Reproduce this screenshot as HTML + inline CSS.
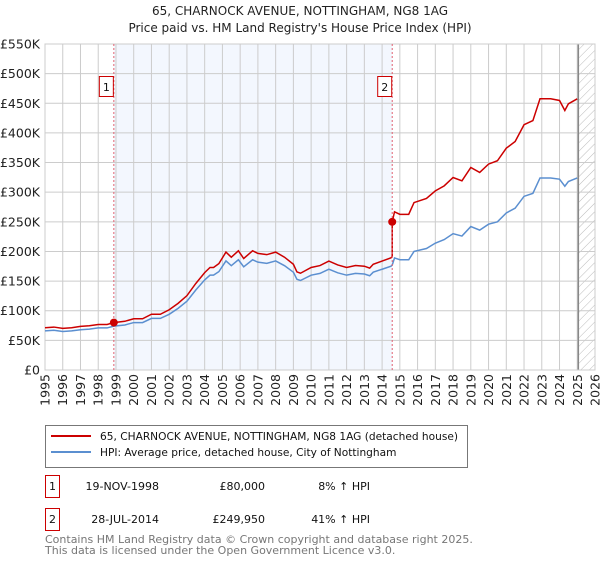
<!DOCTYPE html>
<html><head><meta charset="utf-8"><style>
body{margin:0;background:#fff;font-family:"DejaVu Sans","Liberation Sans",sans-serif;}
svg text{font-family:"DejaVu Sans","Liberation Sans",sans-serif;}
</style></head><body>
<svg id="chart" width="600" height="560" viewBox="0 0 600 560" xmlns="http://www.w3.org/2000/svg">
<defs><pattern id="hatch" width="6" height="6" patternUnits="userSpaceOnUse" patternTransform="rotate(45)"><line x1="0" y1="0" x2="0" y2="6" stroke="#bbb" stroke-width="1"/></pattern></defs>
<text x="300" y="15" text-anchor="middle" font-size="12" fill="#222">65, CHARNOCK AVENUE, NOTTINGHAM, NG8 1AG</text>
<text x="300" y="32" text-anchor="middle" font-size="12" fill="#222">Price paid vs. HM Land Registry's House Price Index (HPI)</text>
<g id="plot"></g>
<g>
<rect x="45.5" y="425.5" width="422" height="42" fill="#fff" stroke="#777"/>
<line x1="51" y1="436" x2="91" y2="436" stroke="#cc0000" stroke-width="2"/>
<text x="100" y="440" font-size="10.6" fill="#111">65, CHARNOCK AVENUE, NOTTINGHAM, NG8 1AG (detached house)</text>
<line x1="51" y1="452" x2="91" y2="452" stroke="#5b8fd0" stroke-width="2"/>
<text x="100" y="456" font-size="10.6" fill="#111">HPI: Average price, detached house, City of Nottingham</text>
</g>
<g font-size="11" fill="#111">
<rect x="45.5" y="475.5" width="14" height="22" fill="#fff" stroke="#cc0000"/>
<text x="52.5" y="490" text-anchor="middle">1</text>
<text x="159" y="490" text-anchor="end">19-NOV-1998</text>
<text x="265" y="490" text-anchor="end">£80,000</text>
<text x="370" y="490" text-anchor="end">8% ↑ HPI</text>
<rect x="45.5" y="508.5" width="14" height="22" fill="#fff" stroke="#cc0000"/>
<text x="52.5" y="523" text-anchor="middle">2</text>
<text x="159" y="523" text-anchor="end">28-JUL-2014</text>
<text x="265" y="523" text-anchor="end">£249,950</text>
<text x="370" y="523" text-anchor="end">41% ↑ HPI</text>
</g>
<text x="45" y="543" font-size="11" fill="#777">Contains HM Land Registry data © Crown copyright and database right 2025.</text>
<text x="45" y="554" font-size="11" fill="#777">This data is licensed under the Open Government Licence v3.0.</text>
</svg>
<script>
const hpiYears=[1995,1995.5,1996,1996.5,1997,1997.5,1998,1998.5,1998.88,1999.5,2000,2000.5,2001,2001.5,2002,2002.5,2003,2003.5,2004,2004.3,2004.5,2004.8,2005.2,2005.5,2005.9,2006.2,2006.7,2007,2007.5,2008,2008.5,2009,2009.2,2009.4,2010,2010.5,2011,2011.5,2012,2012.5,2013,2013.3,2013.5,2014,2014.5,2014.57,2014.7,2015,2015.5,2015.8,2016.5,2017,2017.5,2018,2018.5,2019,2019.5,2020,2020.5,2021,2021.5,2022,2022.5,2022.9,2023.5,2024,2024.3,2024.5,2025];
const hpiValues=[66,67,65,66,68,69,71,71,74,76,80,80,87,87,94,104,116,135,152,160,160,166,184,176,186,174,186,182,180,184,176,165,153,151,160,163,170,164,160,163,162,159,165,170,175,177,189,186,186,200,205,214,220,230,226,242,236,246,250,265,273,293,298,324,324,322,310,318,324];
const saleYears=[1998.88,2014.57];
const salePrices=[80,249.95];
const saleLabels=["1","2"];
const yTicks=[0,50,100,150,200,250,300,350,400,450,500,550];
const yTickLabels=["£0","£50K","£100K","£150K","£200K","£250K","£300K","£350K","£400K","£450K","£500K","£550K"];
const xTicks=[1995,1996,1997,1998,1999,2000,2001,2002,2003,2004,2005,2006,2007,2008,2009,2010,2011,2012,2013,2014,2015,2016,2017,2018,2019,2020,2021,2022,2023,2024,2025,2026];
const L=45,R=595,T=44,B=370,X0=1995,X1=2026,YMAX=550,FORECAST=2025.06;
const sx=v=>L+(v-X0)/(X1-X0)*(R-L);
const sy=v=>B-v/YMAX*(B-T);
const NS="http://www.w3.org/2000/svg";
const g=document.getElementById('plot');
function mk(tag,attrs){const e=document.createElementNS(NS,tag);for(const k in attrs)e.setAttribute(k,attrs[k]);g.appendChild(e);return e;}
function hpiAt(y){for(let i=0;i<hpiYears.length-1;i++){if(y<=hpiYears[i+1]){const t=(y-hpiYears[i])/(hpiYears[i+1]-hpiYears[i]);return hpiValues[i]+t*(hpiValues[i+1]-hpiValues[i]);}}return hpiValues[hpiValues.length-1];}
let e=mk('rect',{x:sx(saleYears[0]),y:T,width:sx(saleYears[1])-sx(saleYears[0]),height:B-T,fill:'#eef3fd',opacity:0.7});


e=mk('rect',{x:sx(FORECAST),y:T,width:R-sx(FORECAST),height:B-T,fill:'url(#hatch)'});


yTicks.forEach((t,i)=>{
  let l=mk('line',{x1:L,x2:R,y1:sy(t),y2:sy(t),stroke:'#cccccc','stroke-width':1});
  
  
  let tx=mk('text',{x:L-5,y:sy(t)+4.5,'text-anchor':'end','font-size':12.5,fill:'#222'});
  tx.textContent=yTickLabels[i];
  
  
});
xTicks.forEach(t=>{
  let l=mk('line',{x1:sx(t),x2:sx(t),y1:T,y2:B,stroke:'#cccccc','stroke-width':1});
  
  
  let tx=mk('text',{x:0,y:0,'text-anchor':'end','font-size':12.5,fill:'#222',transform:`translate(${sx(t)+4.5},${B+4}) rotate(-90)`});
  tx.textContent=t;
  
  
});
e=mk('line',{x1:sx(FORECAST),x2:sx(FORECAST),y1:T,y2:B,stroke:'#888','stroke-width':1.5});


e=mk('rect',{x:L,y:T,width:R-L,height:B-T,fill:'none',stroke:'#cccccc'});


e=mk('polyline',{points:hpiYears.map((y,i)=>sx(y)+','+sy(hpiValues[i])).join(' '),fill:'none',stroke:'#5b8fd0','stroke-width':1.5});


const f0=salePrices[0]/hpiAt(saleYears[0]), f1=salePrices[1]/hpiAt(saleYears[1]);
const pts=[];
hpiYears.forEach((y,i)=>{
  if(y<saleYears[1]) pts.push(sx(y)+','+sy(hpiValues[i]*f0));
  if(y===saleYears[1]||(i>0&&hpiYears[i-1]<saleYears[1]&&y>saleYears[1])){
    pts.push(sx(saleYears[1])+','+sy(hpiAt(saleYears[1])*f0));
    pts.push(sx(saleYears[1])+','+sy(salePrices[1]));
  }
  if(y>saleYears[1]) pts.push(sx(y)+','+sy(hpiValues[i]*f1));
});
e=mk('polyline',{points:pts.join(' '),fill:'none',stroke:'#cc0000','stroke-width':1.5});


saleYears.forEach((y,i)=>{
  let l=mk('line',{x1:sx(y),x2:sx(y),y1:T,y2:B,stroke:'#e06070','stroke-width':1,'stroke-dasharray':'2,2'});
  
  
  let c=mk('circle',{cx:sx(y),cy:sy(salePrices[i]),r:4,fill:'#cc0000'});
  
  
  let r=mk('rect',{x:sx(y)-14.5,y:76.5,width:14,height:20,fill:'#fff',stroke:'#cc0000'});
  
  
  let t=mk('text',{x:sx(y)-7.5,y:91,'text-anchor':'middle','font-size':11,fill:'#111'});
  t.textContent=saleLabels[i];
  
  
});
</script>
</body></html>
